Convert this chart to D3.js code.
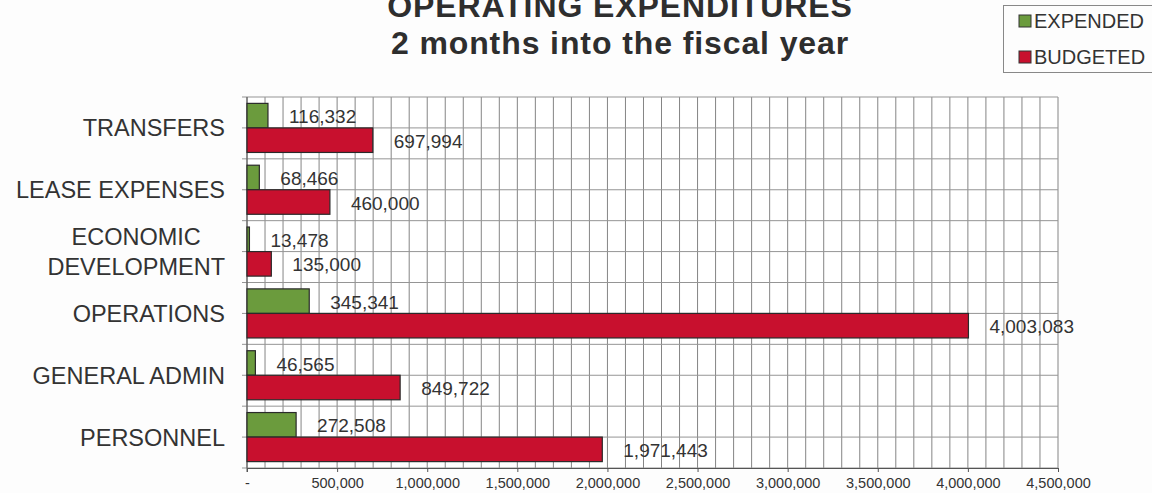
<!DOCTYPE html>
<html>
<head>
<meta charset="utf-8">
<script src="https://cdn.jsdelivr.net/npm/d3@7"></script>
<style>
  body { margin: 0; background: #fdfdfd; }
  svg { display: block; font-family: "Liberation Sans", Arial, sans-serif; }
</style>
</head>
<body>
<div id="chart"></div>
<script>
// chart data
var categories = ["TRANSFERS", "LEASE EXPENSES", "ECONOMIC DEVELOPMENT", "OPERATIONS", "GENERAL ADMIN", "PERSONNEL"];
var categoryLines = [["TRANSFERS"], ["LEASE EXPENSES"], ["ECONOMIC", "DEVELOPMENT"], ["OPERATIONS"], ["GENERAL ADMIN"], ["PERSONNEL"]];
var seriesNames = ["EXPENDED", "BUDGETED"];
var expended = [116332, 68466, 13478, 345341, 46565, 272508];
var budgeted = [697994, 460000, 135000, 4003083, 849722, 1971443];
var xTicks = [0, 500000, 1000000, 1500000, 2000000, 2500000, 3000000, 3500000, 4000000, 4500000];
var titleLines = ["OPERATING EXPENDITURES", "2 months into the fiscal year"];

var W = 1152, H = 493;
var margin = { top: 97, right: 94, bottom: 25, left: 247 };
var colors = { EXPENDED: "#6b9b3d", BUDGETED: "#c8102e" };

var svg = d3.select("#chart").append("svg")
    .attr("width", W)
    .attr("height", H);

var x = d3.scaleLinear()
    .domain([0, 4500000])
    .range([margin.left, W - margin.right]);

var y = d3.scaleBand()
    .domain(categories)
    .range([margin.top, H - margin.bottom]);

var y1 = d3.scaleBand()
    .domain(seriesNames)
    .range([0, y.bandwidth()])
    .paddingOuter(0.26);

// plot background
svg.append("rect")
    .attr("x", x(0)).attr("y", margin.top)
    .attr("width", x(4500000) - x(0)).attr("height", y.range()[1] - margin.top)
    .attr("fill", "#ffffff");

// vertical grid every 100,000
var minor = d3.range(0, 4500001, 100000);
svg.append("g").selectAll("line")
    .data(minor)
    .enter().append("line")
    .attr("x1", function(d) { return x(d); })
    .attr("x2", function(d) { return x(d); })
    .attr("y1", margin.top)
    .attr("y2", y.range()[1])
    .attr("stroke", "#858585")
    .attr("stroke-width", 1);

// horizontal grid every half category
var hLines = [];
categories.forEach(function(c) { hLines.push(y(c)); hLines.push(y(c) + y.bandwidth() / 2); });
hLines.push(y.range()[1]);
svg.append("g").selectAll("line")
    .data(hLines)
    .enter().append("line")
    .attr("x1", x(0) - 5)
    .attr("x2", x(4500000))
    .attr("y1", function(d) { return d; })
    .attr("y2", function(d) { return d; })
    .attr("stroke", "#959595")
    .attr("stroke-width", 1);

// left axis line
svg.append("line")
    .attr("x1", x(0)).attr("x2", x(0))
    .attr("y1", margin.top).attr("y2", y.range()[1] + 4)
    .attr("stroke", "#555");

// bottom axis
var xAxis = svg.append("g")
    .attr("transform", "translate(0," + y.range()[1] + ")")
    .call(d3.axisBottom(x)
        .tickValues(xTicks)
        .tickSize(4)
        .tickPadding(6)
        .tickFormat(function(d) { return d === 0 ? "-" : d3.format(",")(d); }));
xAxis.select(".domain").attr("stroke", "#555");
xAxis.selectAll(".tick line").attr("stroke", "#555");
xAxis.selectAll("text")
    .attr("font-size", 14.5)
    .attr("fill", "#333")
    .attr("font-family", "Liberation Sans, Arial, sans-serif");

// bars
var rows = categories.map(function(c, i) {
    return { cat: c, EXPENDED: expended[i], BUDGETED: budgeted[i] };
});

var groups = svg.append("g").selectAll("g")
    .data(rows)
    .enter().append("g")
    .attr("transform", function(d) { return "translate(0," + y(d.cat) + ")"; });

groups.selectAll("rect")
    .data(function(d) { return seriesNames.map(function(s) { return { s: s, v: d[s] }; }); })
    .enter().append("rect")
    .attr("x", x(0))
    .attr("y", function(d) { return y1(d.s); })
    .attr("width", function(d) { return x(d.v) - x(0); })
    .attr("height", y1.bandwidth())
    .attr("fill", function(d) { return colors[d.s]; })
    .attr("stroke", "#2a2a2a")
    .attr("stroke-width", 1.2);

groups.selectAll("text")
    .data(function(d) { return seriesNames.map(function(s) { return { s: s, v: d[s] }; }); })
    .enter().append("text")
    .attr("x", function(d) { return x(d.v) + 21; })
    .attr("y", function(d) { return y1(d.s) + y1.bandwidth() / 2 + 1; })
    .attr("dy", "0.35em")
    .attr("font-size", 19)
    .attr("fill", "#333")
    .text(function(d) { return d3.format(",")(d.v); });

// category labels
var catG = svg.append("g").selectAll("text")
    .data(categories)
    .enter().append("text")
    .attr("font-size", 23.5)
    .attr("fill", "#333")
    .attr("text-anchor", "end")
    .attr("x", 225)
    .attr("y", function(d) { return y(d) + y.bandwidth() / 2; });

catG.each(function(d, i) {
    var lines = categoryLines[i];
    var t = d3.select(this);
    if (lines.length === 1) {
        t.attr("dy", "0.36em").text(lines[0]);
    } else {
        t.attr("text-anchor", "middle");
        var spans = [];
        lines.forEach(function(l, j) {
            spans.push(t.append("tspan")
                .attr("dy", j === 0 ? "-0.27em" : "1.25em")
                .text(l));
        });
        var maxW = d3.max(spans, function(s) { return s.node().getComputedTextLength(); });
        spans.forEach(function(s) { s.attr("x", 225 - maxW / 2); });
    }
});

// title
svg.append("g").selectAll("text")
    .data(titleLines)
    .enter().append("text")
    .attr("x", 620)
    .attr("y", function(d, i) { return 17 + i * 37; })
    .attr("text-anchor", "middle")
    .attr("font-size", 32)
    .attr("font-weight", "bold")
    .attr("letter-spacing", 0.9)
    .attr("fill", "#2e2e2e")
    .text(function(d) { return d; });

// legend
var legend = svg.append("g");
legend.append("rect")
    .attr("x", 1003.5).attr("y", 5.5)
    .attr("width", 150).attr("height", 67)
    .attr("fill", "#fdfdfd")
    .attr("stroke", "#888");
var li = legend.selectAll("g.item")
    .data(seriesNames)
    .enter().append("g")
    .attr("class", "item")
    .attr("transform", function(d, i) { return "translate(1019," + (21 + i * 36) + ")"; });
li.append("rect")
    .attr("x", 0).attr("y", -6)
    .attr("width", 12).attr("height", 12)
    .attr("fill", function(d) { return colors[d]; })
    .attr("stroke", "#333");
li.append("text")
    .attr("x", 15)
    .attr("dy", "0.36em")
    .attr("font-size", 20)
    .attr("fill", "#333")
    .text(function(d) { return d; });
</script>
</body>
</html>
